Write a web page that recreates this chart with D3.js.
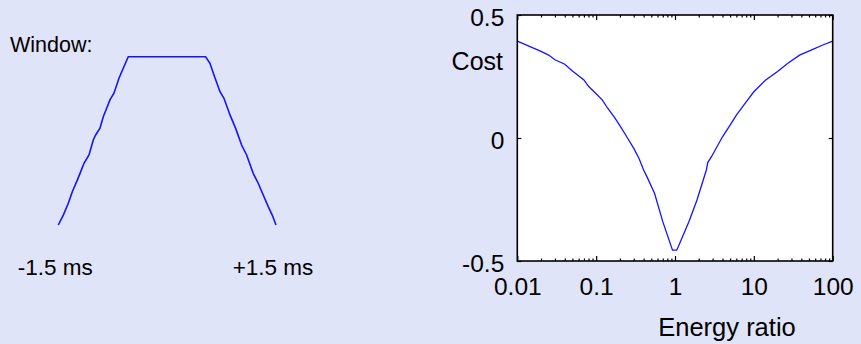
<!DOCTYPE html>
<html>
<head>
<meta charset="utf-8">
<script src="https://cdn.jsdelivr.net/npm/d3@7"></script>
<style>
  html, body { margin: 0; padding: 0; background: #e0e4f8; }
  svg { display: block; font-family: "Liberation Sans", Arial, sans-serif; }
</style>
</head>
<body>
<div id="chart"></div>
<script>
// window shape (time in ms, relative amplitude)
const winTime = [-1.5, -1.431, -1.362, -1.307, -1.238, -1.191, -1.146, -1.077, -1.018, -0.985, -0.926, -0.88, -0.788, -0.733, -0.664, -0.536,
                 0.53, 0.59, 0.645, 0.728, 0.783, 0.866, 0.944, 1.026, 1.095, 1.186, 1.255, 1.324, 1.393, 1.448, 1.5];
const winAmp = [0, 0.059, 0.129, 0.198, 0.267, 0.317, 0.367, 0.416, 0.505, 0.535, 0.575, 0.643, 0.743, 0.783, 0.872, 1,
                1, 0.961, 0.891, 0.792, 0.753, 0.654, 0.574, 0.475, 0.416, 0.307, 0.248, 0.178, 0.109, 0.059, 0];
const winTicks = [-1.5, 1.5];
const winTickLabels = ["-1.5 ms", "+1.5 ms"];

// cost vs energy ratio
const ratio = [0.01, 0.02, 0.025, 0.03, 0.04, 0.05, 0.07, 0.08, 0.1, 0.12, 0.14, 0.17, 0.2, 0.25, 0.3, 0.35, 0.4, 0.44, 0.55, 0.7, 0.93,
               1.05, 1.1, 1.5, 1.9, 2.5, 2.6, 2.9, 4, 5, 6, 8, 10, 14, 20, 27, 38, 56, 75, 100];
const cost = [0.394, 0.352, 0.337, 0.318, 0.3, 0.272, 0.236, 0.21, 0.18, 0.154, 0.121, 0.085, 0.05, 0.0, -0.042, -0.083, -0.13, -0.157, -0.225, -0.34, -0.456,
              -0.456, -0.442, -0.34, -0.252, -0.13, -0.1, -0.076, 0.005, 0.052, 0.093, 0.147, 0.188, 0.235, 0.27, 0.304, 0.337, 0.36, 0.378, 0.394];
const costTicks = [-0.5, 0, 0.5];
const costTickLabels = ["-0.5", "0", "0.5"];
const ratioTicks = [0.01, 0.1, 1, 10, 100];
const ratioTickLabels = ["0.01", "0.1", "1", "10", "100"];

const W = 861, H = 344;
const svg = d3.select("#chart").append("svg")
    .attr("width", W).attr("height", H);

svg.append("rect").attr("width", W).attr("height", H).attr("fill", "#e0e4f8");

// ---- left: window ----
const wx = d3.scaleLinear().domain([-1.5, 1.5]).range([58.3, 276]);
const wy = d3.scaleLinear().domain([0, 1]).range([225, 56.7]);

svg.append("text")
    .attr("x", 10).attr("y", 51.5)
    .attr("font-size", 21.5)
    .text("Window:");

svg.append("path")
    .datum(winTime.map((t, i) => [t, winAmp[i]]))
    .attr("fill", "none")
    .attr("stroke", "#1414ff")
    .attr("stroke-width", 1.6)
    .attr("d", d3.line().x(d => wx(d[0])).y(d => wy(d[1])));

svg.append("g")
    .selectAll("text")
    .data(winTicks)
    .join("text")
    .attr("x", d => wx(d) - 3)
    .attr("y", 275)
    .attr("text-anchor", "middle")
    .attr("font-size", 22.5)
    .text((d, i) => winTickLabels[i]);

// ---- right: cost ----
const pL = 517.3, pR = 832.7, pT = 15, pB = 261;
const x = d3.scaleLog().domain([0.01, 100]).range([pL, pR]);
const y = d3.scaleLinear().domain([-0.5, 0.5]).range([pB, pT]);

svg.append("rect")
    .attr("x", pL).attr("y", pT)
    .attr("width", pR - pL).attr("height", pB - pT)
    .attr("fill", "white");

const minor = [];
ratioTicks.slice(0, -1).forEach(d => { for (let k = 2; k <= 9; k++) minor.push(d * k); });

const styleAxis = g => {
    g.select(".domain").remove();
    g.selectAll("line").attr("stroke", "black").attr("stroke-width", 1.2);
    g.selectAll("text").attr("fill", "black").attr("font-size", 24.5)
        .attr("font-family", "\"Liberation Sans\", Arial, sans-serif");
};

svg.append("g").attr("transform", `translate(0,${pB})`)
    .call(d3.axisBottom(x).tickValues(ratioTicks).tickFormat((d, i) => ratioTickLabels[i])
        .tickSize(-5).tickPadding(17))
    .call(styleAxis);
svg.append("g").attr("transform", `translate(0,${pB})`)
    .call(d3.axisBottom(x).tickValues(minor).tickFormat("").tickSize(-2.5))
    .call(styleAxis);
svg.append("g").attr("transform", `translate(0,${pT})`)
    .call(d3.axisTop(x).tickValues(ratioTicks).tickFormat("").tickSize(-5))
    .call(styleAxis);
svg.append("g").attr("transform", `translate(0,${pT})`)
    .call(d3.axisTop(x).tickValues(minor).tickFormat("").tickSize(-2.5))
    .call(styleAxis);

svg.append("g").attr("transform", `translate(${pL},0)`)
    .call(d3.axisLeft(y).tickValues(costTicks).tickFormat((d, i) => costTickLabels[i]).tickSize(-4).tickPadding(13))
    .call(styleAxis)
    .call(g => g.selectAll("text").attr("dy", "0.43em"));
svg.append("g").attr("transform", `translate(${pR},0)`)
    .call(d3.axisRight(y).tickValues(costTicks).tickFormat("").tickSize(-4))
    .call(styleAxis);

svg.append("path")
    .datum(ratio.map((r, i) => [r, cost[i]]))
    .attr("fill", "none")
    .attr("stroke", "#1414ff")
    .attr("stroke-width", 1.3)
    .attr("d", d3.line().x(d => x(d[0])).y(d => y(d[1])));

svg.append("rect")
    .attr("x", pL).attr("y", pT)
    .attr("width", pR - pL).attr("height", pB - pT)
    .attr("fill", "none")
    .attr("stroke", "black")
    .attr("stroke-width", 1.6);

svg.append("text")
    .attr("x", 503).attr("y", 70)
    .attr("text-anchor", "end")
    .attr("font-size", 25)
    .text("Cost");

svg.append("text")
    .attr("x", 727).attr("y", 336)
    .attr("text-anchor", "middle")
    .attr("font-size", 25.5)
    .text("Energy ratio");
</script>
</body>
</html>
